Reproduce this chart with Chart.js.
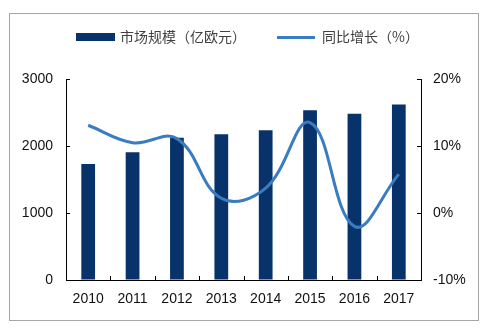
<!DOCTYPE html>
<html>
<head>
<meta charset="utf-8">
<script src="https://cdn.jsdelivr.net/npm/chart.js@4/dist/chart.umd.min.js"></script>
<style>
  html, body { margin: 0; padding: 0; background: #fff; }
  #wrap { position: relative; width: 500px; height: 329px; }
</style>
</head>
<body>
<div id="wrap"><canvas id="marketChart" width="500" height="329"></canvas></div>
<script>
var years = ["2010", "2011", "2012", "2013", "2014", "2015", "2016", "2017"];
var marketSize = [1730, 1905, 2125, 2175, 2235, 2535, 2480, 2620];
var growthPct = [13.1, 10.5, 11.1, 2.2, 3.7, 13.5, -2.0, 5.8];
var legendNames = ["市场规模（亿欧元）", "同比增长（%）"];

var barColor = "#08336a";
var lineColor = "#3a7cc1";
var latin = "'Liberation Sans', Arial, sans-serif";
var cjk = "'Noto Sans CJK SC', 'Liberation Sans', sans-serif";

// outer frame, legend and the small inward tick marks
var decor = {
  id: "decor",
  beforeDraw: function (chart) {
    var ctx = chart.ctx;
    ctx.save();
    ctx.strokeStyle = "#a6a6a6";
    ctx.lineWidth = 1;
    ctx.strokeRect(9.5, 13.5, 469, 307);
    ctx.restore();
  },
  afterDraw: function (chart) {
    var ctx = chart.ctx;
    var area = chart.chartArea;
    var y = chart.scales.y, y1 = chart.scales.y1;
    ctx.save();
    ctx.strokeStyle = "#000";
    ctx.lineWidth = 1;
    ctx.beginPath();
    y.ticks.forEach(function (t) {
      var py = Math.round(y.getPixelForValue(t.value)) + 0.5;
      ctx.moveTo(area.left, py); ctx.lineTo(area.left + 4, py);
    });
    y1.ticks.forEach(function (t) {
      var py = Math.round(y1.getPixelForValue(t.value)) + 0.5;
      ctx.moveTo(area.right - 4, py); ctx.lineTo(area.right, py);
    });
    var step = (area.right - area.left) / years.length;
    for (var i = 1; i < years.length; i++) {
      var px = Math.round(area.left + step * i) + 0.5;
      ctx.moveTo(px, area.bottom); ctx.lineTo(px, area.bottom - 4);
    }
    ctx.stroke();

    // legend
    ctx.fillStyle = barColor;
    ctx.fillRect(76, 33, 39, 8);
    ctx.strokeStyle = lineColor;
    ctx.lineWidth = 3;
    ctx.beginPath();
    ctx.moveTo(277, 37.5); ctx.lineTo(315, 37.5);
    ctx.stroke();
    ctx.fillStyle = "#404040";
    ctx.font = "14px " + cjk;
    ctx.textBaseline = "middle";
    ctx.fillText(legendNames[0], 120, 37);
    ctx.fillText(legendNames[1], 322, 37);
    ctx.restore();
  }
};

new Chart("marketChart", {
  type: "bar",
  data: {
    labels: years,
    datasets: [{
      type: "line",
      label: legendNames[1],
      data: growthPct,
      yAxisID: "y1",
      borderColor: lineColor,
      borderWidth: 3,
      pointRadius: 0,
      tension: 0.4,
      fill: false,
      order: 1
    }, {
      label: legendNames[0],
      data: marketSize,
      yAxisID: "y",
      backgroundColor: barColor,
      barPercentage: 0.31,
      categoryPercentage: 1,
      order: 2
    }]
  },
  plugins: [decor],
  options: {
    responsive: false,
    animation: false,
    layout: { padding: { top: 79, left: 0, right: 0, bottom: 0 } },
    plugins: {
      legend: { display: false },
      tooltip: { enabled: false }
    },
    scales: {
      x: {
        grid: { display: true, drawOnChartArea: false, drawTicks: false },
        border: { color: "#000", width: 1 },
        ticks: { color: "#111", padding: 11, font: { size: 14, family: latin } },
        afterFit: function (s) { s.height = 49; }
      },
      y: {
        position: "left",
        min: 0, max: 3000,
        grid: { display: true, drawOnChartArea: false, drawTicks: false },
        border: { color: "#000", width: 1 },
        ticks: {
          stepSize: 1000, color: "#111", padding: 13, font: { size: 14, family: latin },
          callback: function (v) { return String(v); }
        },
        afterFit: function (s) { s.width = 66; }
      },
      y1: {
        position: "right",
        min: -10, max: 20,
        grid: { display: true, drawOnChartArea: false, drawTicks: false },
        border: { color: "#000", width: 1 },
        ticks: {
          stepSize: 10, color: "#111", padding: 12, font: { size: 14, family: latin },
          callback: function (v) { return v + "%"; }
        },
        afterFit: function (s) { s.width = 79; }
      }
    }
  }
});
</script>
</body>
</html>
